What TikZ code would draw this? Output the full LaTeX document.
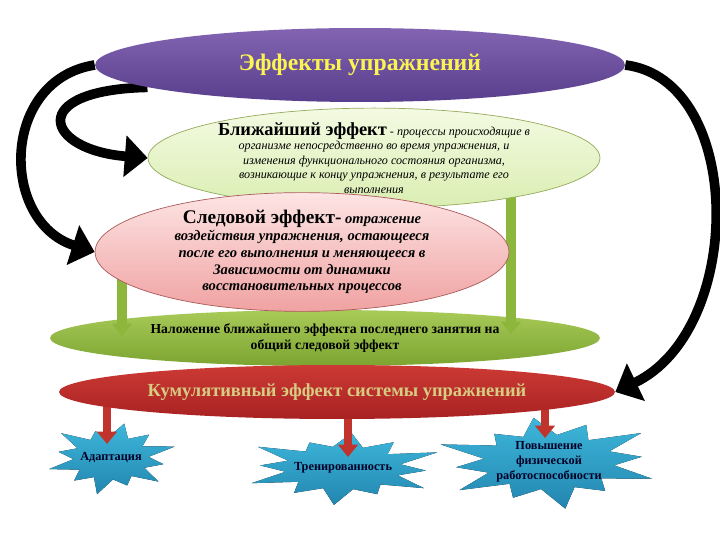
\documentclass[tikz,border=0pt]{standalone}
\usepackage{fontspec}
\setmainfont{Liberation Serif}
\usepackage{tikz}
\usetikzlibrary{shapes.geometric,arrows.meta,backgrounds}

\definecolor{effpurpleT}{RGB}{130,100,178}
\definecolor{effpurpleB}{RGB}{88,62,140}
\definecolor{titleyellow}{RGB}{250,245,80}
\definecolor{nearT}{RGB}{244,250,226}
\definecolor{nearB}{RGB}{218,238,178}
\definecolor{nearline}{RGB}{150,170,90}
\definecolor{traceT}{RGB}{253,228,228}
\definecolor{traceB}{RGB}{240,162,162}
\definecolor{traceline}{RGB}{170,90,90}
\definecolor{overT}{RGB}{168,202,88}
\definecolor{overB}{RGB}{124,164,48}
\definecolor{cumulT}{RGB}{204,58,52}
\definecolor{cumulB}{RGB}{168,34,34}
\definecolor{cumultext}{RGB}{214,204,130}
\definecolor{starT}{RGB}{62,182,218}
\definecolor{starB}{RGB}{34,134,176}
\definecolor{grarrow}{RGB}{140,182,60}
\definecolor{rdarrow}{RGB}{192,52,45}

% spiky burst round a centre: #1 centre, #2 x radius, #3 y radius, #4 turn
\newcommand{\burstfill}[4]{%
  \fill[top color=starT, bottom color=starB, shift={(#1)}] (#4:{0.8*#2} and {0.8*#3})
    \foreach \a/\f in {30/.95,60/.78,90/1,120/.82,150/.97,180/.8,210/1,240/.76,270/.95,300/.85,330/1,360/.8}
      { -- (\a+#4-15:{0.56*#2} and {0.58*#3}) -- (\a+#4:{\f*#2} and {\f*#3}) } -- cycle;}

\begin{document}
\begin{tikzpicture}[
    x=0.02cm, y=-0.02cm,
    oval/.style={ellipse, inner sep=0pt, align=center},
    burstlabel/.style={inner sep=0pt, align=center, font=\fontsize{7}{8.5}\selectfont\bfseries, text=black!85!blue},
    blackarrow/.style={black, line width=5.5pt, -{Triangle[width=23pt,length=13pt]}},
    greenarrow/.style={grarrow, line width=5.5pt, -{Triangle[width=11pt,length=7pt]}},
    redarrow/.style={rdarrow, line width=4.5pt, -{Triangle[width=11pt,length=7pt]}}
]
    \useasboundingbox (0,0) rectangle (720,540);

    % Ellipses
    \node[oval, minimum width=10.6cm, minimum height=1.48cm, top color=effpurpleT, bottom color=effpurpleB,
        font=\fontsize{13.5}{16}\selectfont\bfseries, text=titleyellow] (effects) at (360,65) {Эффекты упражнений};

    \node[oval, minimum width=9.04cm, minimum height=1.68cm, top color=nearT, bottom color=nearB, draw=nearline,
        font=\fontsize{6.9}{8.2}\selectfont\itshape] (near) at (374,158)
        {{\upshape\bfseries\fontsize{10.5}{12}\selectfont Ближайший эффект} - процессы происходящие в\\
         организме непосредственно во время упражнения, и\\
         изменения функционального состояния организма,\\
         возникающие к концу упражнения, в результате его\\
         выполнения};

    \node[oval, minimum width=8.28cm, minimum height=1.92cm, top color=traceT, bottom color=traceB, draw=traceline,
        font=\fontsize{8.3}{9.6}\selectfont\bfseries\itshape] (trace) at (302,252)
        {{\upshape\fontsize{11}{13}\selectfont Следовой эффект-} отражение\\
         воздействия упражнения, остающееся\\
         после его выполнения и меняющееся в\\
         Зависимости от динамики\\
         восстановительных процессов};

    \node[oval, minimum width=11.12cm, minimum height=1.08cm, top color=cumulT, bottom color=cumulB,
        font=\fontsize{10.5}{12}\selectfont\bfseries, text=cumultext] (cumul) at (337,392)
        {Кумулятивный эффект системы упражнений};

    \begin{pgfonlayer}{background}
    \fill[white] (0,0) rectangle (720,540);

    % Black curved arrows
    \draw[blackarrow] (effects.west) .. controls (0,80) and (0,222) .. (trace.west);
    \draw[blackarrow] (effects.186) .. controls (25,90) and (45,150) .. (near.west);
    \draw[blackarrow] (effects.east) .. controls (745,80) and (745,330) .. (cumul.east);

    \node[oval, minimum width=11cm, minimum height=1.12cm, top color=overT, bottom color=overB,
        font=\fontsize{7.8}{8.6}\selectfont\bfseries] (overlay) at (325,338)
        {Наложение ближайшего эффекта последнего занятия на\\ общий следовой эффект};

    % Green arrows
    \coordinate (leftdrop) at (122,336);
    \coordinate (rightdrop) at (511,334);
    \draw[greenarrow] (trace.center -| leftdrop) -- (leftdrop);
    \draw[greenarrow] (near.center -| rightdrop) -- (rightdrop);

    % Results
    \coordinate (adaptc) at (111,458);
    \coordinate (trainc) at (343,468);
    \coordinate (boostc) at (549,462);
    \burstfill{trainc}{104}{37}{5}
    \burstfill{boostc}{117}{47}{-8}
    \burstfill{adaptc}{67}{37}{12}
    \node[burstlabel] (adapt) at (adaptc) {Адаптация};
    \node[burstlabel] (train) at (trainc) {Тренированность};
    \node[burstlabel] (boost) at (boostc) {Повышение\\ физической\\ работоспособности};

    % Red arrows
    \coordinate (adapttip) at (107,444);
    \coordinate (traintip) at (348,457);
    \coordinate (boosttip) at (545,438);
    \draw[redarrow] (cumul.center -| adapttip) -- (adapttip);
    \draw[redarrow] (cumul.center -| traintip) -- (traintip);
    \draw[redarrow] (cumul.center -| boosttip) -- (boosttip);
    \end{pgfonlayer}
\end{tikzpicture}
\end{document}
